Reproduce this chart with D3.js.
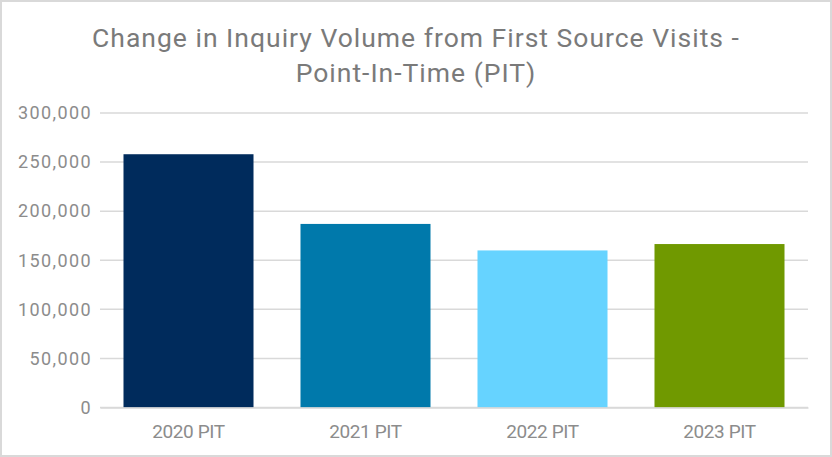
<!DOCTYPE html>
<html><head><meta charset="utf-8">
<script src="https://cdn.jsdelivr.net/npm/d3@7"></script>
<style>body{margin:0;background:#fff}svg{display:block}</style>
</head><body>
<svg id="c" width="832" height="457"></svg>
<script>
const categories = ["2020 PIT", "2021 PIT", "2022 PIT", "2023 PIT"];
const values = [258000, 187000, 160000, 166500];
const colors = ["#002b5c", "#0079ab", "#66d3ff", "#709900"];
const yTicks = [0, 50000, 100000, 150000, 200000, 250000, 300000];
const titleLines = ["Change in Inquiry Volume from First Source Visits -", "Point-In-Time (PIT)"];

const svg = d3.select("#c");
const W = 832, H = 457;
const font = "Roboto, 'Noto Sans', sans-serif";
svg.append("rect").attr("x", 1).attr("y", 1).attr("width", W - 2).attr("height", H - 2)
  .attr("fill", "#fff").attr("stroke", "#d9d9d9").attr("stroke-width", 2);

const x = d3.scaleBand().domain(categories).range([100, 808]).paddingInner(0.2655).paddingOuter(0.13275);
const y = d3.scaleLinear().domain([0, 300000]).range([407.5, 113]);

svg.append("g").selectAll("line").data(yTicks).join("line")
  .attr("x1", 100).attr("x2", 808).attr("y1", d => y(d)).attr("y2", d => y(d))
  .attr("stroke", "#d9d9d9").attr("stroke-width", 1.5);

svg.append("g").selectAll("rect").data(values).join("rect")
  .attr("x", (d, i) => x(categories[i])).attr("width", x.bandwidth())
  .attr("y", d => y(d)).attr("height", d => y(0) - y(d))
  .attr("fill", (d, i) => colors[i]);

const fmt = d3.format(",");
const yAxis = svg.append("g").attr("transform", "translate(100,0)")
  .call(d3.axisLeft(y).tickValues(yTicks).tickFormat(fmt).tickSize(0).tickPadding(8));
yAxis.select(".domain").remove();
yAxis.selectAll("text").attr("fill", "#8c8c8c").style("font-family", font)
  .style("font-size", "18px").style("letter-spacing", "1.4px");

const xAxis = svg.append("g").attr("transform", "translate(0,407.5)")
  .call(d3.axisBottom(x).tickSize(0).tickPadding(17.5));
xAxis.select(".domain").attr("stroke", "#d9d9d9").attr("stroke-width", 1.5);
xAxis.selectAll("text").attr("fill", "#8c8c8c").style("font-family", font)
  .style("font-size", "19px").style("letter-spacing", "-0.4px");

svg.append("g").selectAll("text").data(titleLines).join("text")
  .attr("x", 416).attr("y", (d, i) => 47 + i * 35)
  .attr("text-anchor", "middle").attr("fill", "#7a7a7a")
  .style("font-family", font).style("font-size", "26.5px").style("letter-spacing", "1px")
  .text(d => d);
</script>
</body></html>
